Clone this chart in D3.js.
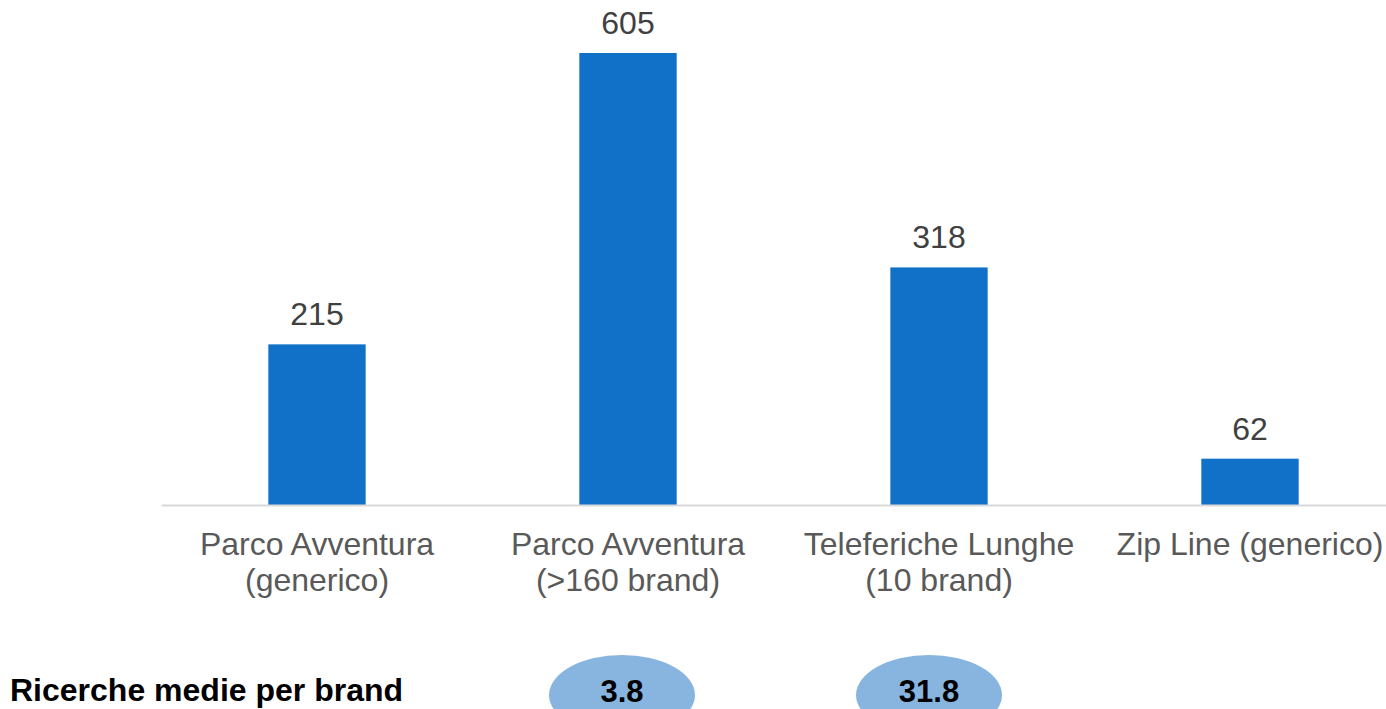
<!DOCTYPE html>
<html>
<head>
<meta charset="utf-8">
<script src="https://cdn.jsdelivr.net/npm/d3@7"></script>
<style>
  body { margin: 0; background: #fff; }
  svg { display: block; font-family: Arial, "Liberation Sans", sans-serif; }
</style>
</head>
<body>
<div id="chart"></div>
<script>
// Data
const categories = [
    ["Parco Avventura", "(generico)"],
    ["Parco Avventura", "(>160 brand)"],
    ["Teleferiche Lunghe", "(10 brand)"],
    ["Zip Line (generico)"]
];
const values = [215, 605, 318, 62];
const avgLabel = "Ricerche medie per brand";
const avgValues = [null, "3.8", "31.8", null];

const width = 1386, height = 709;
const margin = { top: 53, left: 161.5, baseline: 505 };

const svg = d3.select("#chart").append("svg")
    .attr("width", width)
    .attr("height", height);

const keys = categories.map((d, i) => i);

const x = d3.scaleBand()
    .domain(keys)
    .range([margin.left, margin.left + 311 * 4])
    .paddingInner(0.687)
    .paddingOuter(0.3435);

const y = d3.scaleLinear()
    .domain([0, 605])
    .range([margin.baseline, margin.top]);

// Bars
svg.append("g")
    .selectAll("rect")
    .data(values)
    .enter()
    .append("rect")
    .attr("x", (d, i) => x(i))
    .attr("y", d => y(d))
    .attr("width", x.bandwidth())
    .attr("height", d => y(0) - y(d))
    .attr("fill", "#1170c8");

// Value labels
svg.append("g")
    .selectAll("text")
    .data(values)
    .enter()
    .append("text")
    .attr("x", (d, i) => x(i) + x.bandwidth() / 2)
    .attr("y", d => y(d) - 19)
    .attr("text-anchor", "middle")
    .attr("font-size", 32)
    .attr("fill", "#404040")
    .text(d => d);

// Baseline
svg.append("line")
    .attr("x1", margin.left)
    .attr("x2", width)
    .attr("y1", y(0) + 0.5)
    .attr("y2", y(0) + 0.5)
    .attr("stroke", "#d9d9d9")
    .attr("stroke-width", 2);

// Category labels
const catG = svg.append("g")
    .selectAll("text")
    .data(categories)
    .enter()
    .append("text")
    .attr("text-anchor", "middle")
    .attr("font-size", 32)
    .attr("fill", "#595959")
    .attr("transform", (d, i) => `translate(${x(i) + x.bandwidth() / 2},555)`);

catG.selectAll("tspan")
    .data(d => d)
    .enter()
    .append("tspan")
    .attr("x", 0)
    .attr("y", (d, i) => i * 36)
    .text(d => d);

// Average searches per brand row
svg.append("text")
    .attr("x", 10)
    .attr("y", 701)
    .attr("font-size", 32)
    .attr("font-weight", "bold")
    .attr("fill", "#000")
    .text(avgLabel);

const avgOffsets = [0, -6, -10, 0];

const avg = svg.append("g")
    .selectAll("g")
    .data(avgValues.map((v, i) => ({ v, i })).filter(d => d.v !== null))
    .enter()
    .append("g")
    .attr("transform", d => `translate(${x(d.i) + x.bandwidth() / 2 + avgOffsets[d.i]},695)`);

avg.append("ellipse")
    .attr("rx", 73)
    .attr("ry", 40)
    .attr("fill", "#87b5e0");

avg.append("text")
    .attr("y", 7)
    .attr("text-anchor", "middle")
    .attr("font-size", 31)
    .attr("font-weight", "bold")
    .attr("fill", "#000")
    .text(d => d.v);
</script>
</body>
</html>
